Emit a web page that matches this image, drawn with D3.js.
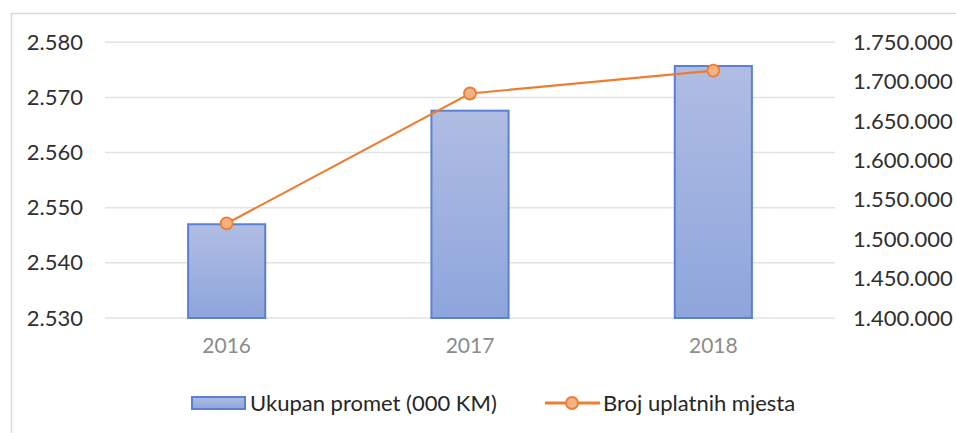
<!DOCTYPE html>
<html>
<head>
<meta charset="utf-8">
<script src="https://cdn.jsdelivr.net/npm/d3@7"></script>
<style>
  html, body { margin: 0; padding: 0; background: #fff; }
  svg { display: block; }
  text { font-family: Lato, "Open Sans", sans-serif; }
</style>
</head>
<body>
<svg id="chart" width="956" height="433"></svg>
<script>
const categories = ["2016", "2017", "2018"];
const turnover = [2.547, 2.5676, 2.5757];          // Ukupan promet (000 KM)
const paymentPoints = [1520000, 1685000, 1714000]; // Broj uplatnih mjesta
const leftTicks = [2.530, 2.540, 2.550, 2.560, 2.570, 2.580];
const rightTicks = [1400000, 1450000, 1500000, 1550000, 1600000, 1650000, 1700000, 1750000];
const seriesNames = ["Ukupan promet (000 KM)", "Broj uplatnih mjesta"];

const svg = d3.select("#chart");
const plot = { left: 105, right: 835, top: 42.3, bottom: 318 };

// outer frame
svg.append("rect").attr("x", 11.5).attr("y", 13.5).attr("width", 1000).attr("height", 500)
  .attr("fill", "none").attr("stroke", "#d9d9d9").attr("stroke-width", 1.5);

const x = d3.scaleBand().domain(categories).range([plot.left, plot.right])
  .paddingInner(0.683).paddingOuter(0.683 / 2);
const yL = d3.scaleLinear().domain([2.530, 2.580]).range([plot.bottom, plot.top]);
const yR = d3.scaleLinear().domain([1400000, 1750000]).range([plot.bottom, plot.top]);

const fmtL = v => d3.format(".3f")(v);
const fmtR = v => d3.format(",")(v).replace(/,/g, ".");

// gridlines
svg.append("g").selectAll("line").data(leftTicks).join("line")
  .attr("x1", plot.left).attr("x2", plot.right)
  .attr("y1", d => yL(d)).attr("y2", d => yL(d))
  .attr("stroke", "#e3e3e3").attr("stroke-width", 1.5);

// left axis
const axL = svg.append("g").attr("transform", `translate(${plot.left},0)`)
  .call(d3.axisLeft(yL).tickValues(leftTicks).tickFormat(fmtL).tickSize(0).tickPadding(22));
axL.select(".domain").remove();
axL.selectAll("text").attr("font-size", 22).attr("fill", "#303030").attr("font-family", "Lato, sans-serif");

// right axis
const axR = svg.append("g").attr("transform", `translate(${plot.right},0)`)
  .call(d3.axisRight(yR).tickValues(rightTicks).tickFormat(fmtR).tickSize(0).tickPadding(18));
axR.select(".domain").remove();
axR.selectAll("text").attr("font-size", 22).attr("fill", "#303030").attr("font-family", "Lato, sans-serif");

// x axis
const axX = svg.append("g").attr("transform", `translate(0,${plot.bottom})`)
  .call(d3.axisBottom(x).tickSize(0).tickPadding(20));
axX.select(".domain").remove();
axX.selectAll("text").attr("font-size", 21).attr("fill", "#8c8c8c").attr("font-family", "Lato, sans-serif");

// gradient
const defs = svg.append("defs");
const grad = defs.append("linearGradient").attr("id", "barGrad").attr("x1", 0).attr("y1", 0).attr("x2", 0).attr("y2", 1);
grad.append("stop").attr("offset", "0%").attr("stop-color", "#b0bde3");
grad.append("stop").attr("offset", "100%").attr("stop-color", "#8ea5dc");

// bars
svg.append("g").selectAll("rect").data(categories).join("rect")
  .attr("x", d => x(d)).attr("width", x.bandwidth())
  .attr("y", (d, i) => yL(turnover[i]))
  .attr("height", (d, i) => plot.bottom - yL(turnover[i]))
  .attr("fill", "url(#barGrad)").attr("stroke", "#5a80d2").attr("stroke-width", 2);

// line
const line = d3.line().x((d, i) => x(categories[i]) + x.bandwidth() / 2).y(d => yR(d));
svg.append("path").datum(paymentPoints).attr("d", line)
  .attr("fill", "none").attr("stroke", "#ed7d31").attr("stroke-width", 2.2);
svg.append("g").selectAll("circle").data(paymentPoints).join("circle")
  .attr("cx", (d, i) => x(categories[i]) + x.bandwidth() / 2).attr("cy", d => yR(d))
  .attr("r", 6).attr("fill", "#f4b183").attr("stroke", "#ed7d31").attr("stroke-width", 1.8);

// legend
const lg = svg.append("g");
lg.append("rect").attr("x", 192).attr("y", 397).attr("width", 53).attr("height", 12)
  .attr("fill", "url(#barGrad)").attr("stroke", "#5a80d2").attr("stroke-width", 2);
lg.append("text").attr("x", 250).attr("y", 403).attr("dy", "0.35em")
  .attr("font-size", 22).attr("fill", "#262626").text(seriesNames[0]);
lg.append("line").attr("x1", 545).attr("x2", 600).attr("y1", 403).attr("y2", 403)
  .attr("stroke", "#ed7d31").attr("stroke-width", 3);
lg.append("circle").attr("cx", 572).attr("cy", 403).attr("r", 6)
  .attr("fill", "#f4b183").attr("stroke", "#ed7d31").attr("stroke-width", 1.8);
lg.append("text").attr("x", 603).attr("y", 403).attr("dy", "0.35em")
  .attr("font-size", 22).attr("fill", "#262626").text(seriesNames[1]);
</script>
</body>
</html>
